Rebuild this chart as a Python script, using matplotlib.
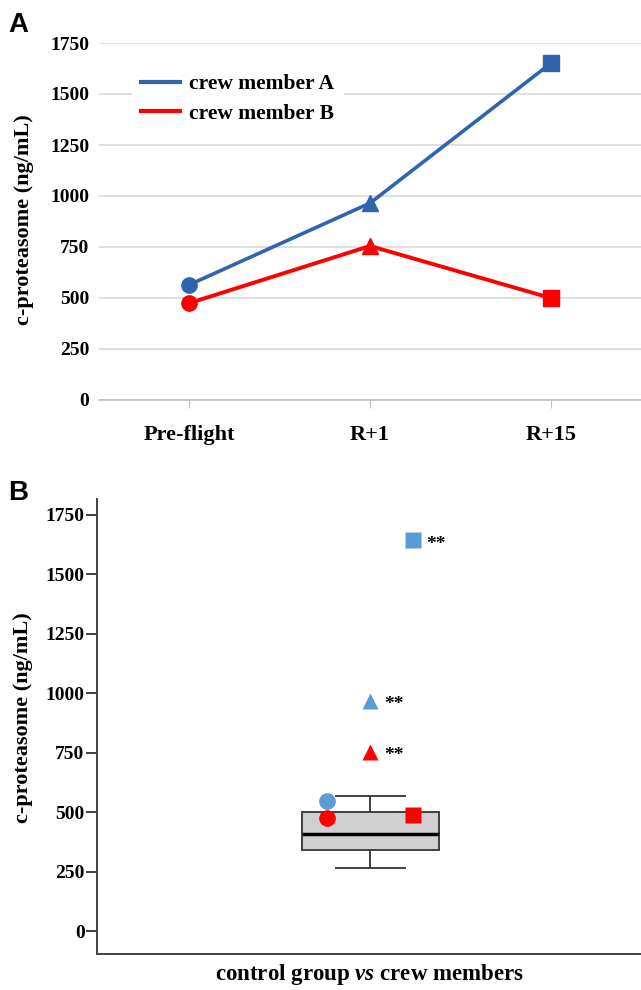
import numpy as np
import matplotlib
matplotlib.use("Agg")
import matplotlib.pyplot as plt

plt.rcParams["font.family"] = ["Liberation Serif", "DejaVu Serif"]
plt.rcParams["font.weight"] = "bold"
plt.rcParams["mathtext.fontset"] = "custom"
plt.rcParams["mathtext.rm"] = "Liberation Serif:bold"
plt.rcParams["mathtext.bfit"] = "Liberation Serif:italic:bold"

# ---------------- data ----------------
timepoints = ["Pre-flight", "R+1", "R+15"]
crew_a = [565, 965, 1650]
crew_b = [475, 755, 500]
markers = ["o", "^", "s"]

# control group box (SPSS-style summary)
ctrl_whislo, ctrl_q1, ctrl_med, ctrl_q3, ctrl_whishi = 265, 340, 410, 500, 570
# crew values plotted over the box in panel B
crew_offsets = [-0.32, 0.0, 0.31]
pb_crew_a = [550, 970, 1645]     # crew member A (blue)
pb_crew_b = [475, 755, 490]      # crew member B (red)
sig_a = [False, True, True]
sig_b = [False, True, False]
yticks = [0, 250, 500, 750, 1000, 1250, 1500, 1750]
# --------------------------------------

BLUE_A = "#2F64AE"
RED = "#FF0000"
BLUE_B = "#5B9BD5"
W, H = 641, 990

fig = plt.figure(figsize=(W / 100, H / 100), dpi=100)

# ---------------- panel A ----------------
ax1 = fig.add_axes([99 / W, 1 - 400 / H, (641 - 99) / W, (400 - 43) / H])
x = np.arange(len(timepoints))
ax1.plot(x, crew_a, "-", color=BLUE_A, lw=2.6, label="crew member A", zorder=3)
ax1.plot(x, crew_b, "-", color=RED, lw=2.8, label="crew member B", zorder=3)
for xi, ya, yb, m in zip(x, crew_a, crew_b, markers):
    ax1.plot(xi, ya, m, color=BLUE_A, ms=11, zorder=4)
    ax1.plot(xi, yb, m, color=RED, ms=11, zorder=4)
ax1.set_xlim(-0.5, 2.5)
ax1.set_ylim(0, 1750)
ax1.set_yticks(yticks)
ax1.set_xticks(x)
ax1.set_xticklabels(timepoints, fontsize=16, fontweight="bold")
ax1.tick_params(axis="y", length=0, pad=7, labelsize=14)
ax1.tick_params(axis="x", length=6, color="#BFBFBF", pad=12)
ax1.grid(axis="y", color="#D9D9D9", lw=1.2, zorder=0)
for s in ["top", "right", "left"]:
    ax1.spines[s].set_visible(False)
ax1.spines["bottom"].set_color("#BFBFBF")
ax1.spines["bottom"].set_linewidth(1.2)
ax1.set_ylabel("c-proteasome (ng/mL)", fontsize=16, fontweight="bold")
ax1.yaxis.set_label_coords(-0.12, 0.505)
leg = ax1.legend(loc="upper left", bbox_to_anchor=(0.06, 0.94), borderaxespad=0,
                 frameon=True, fontsize=15.5, handlelength=1.8, handletextpad=0.4,
                 labelspacing=0.45, borderpad=0.45, fancybox=False)
leg.get_frame().set_edgecolor("white")
leg.get_frame().set_facecolor("white")
leg.get_frame().set_alpha(1.0)
for line in leg.get_lines():
    line.set_linewidth(3.0)
for t in leg.get_texts():
    t.set_fontweight("bold")
fig.text(8 / W, 1 - 32 / H, "A", fontsize=20, fontweight="bold", family="Liberation Sans")

# ---------------- panel B ----------------
ax2 = fig.add_axes([97 / W, 1 - 954 / H, (641 - 97) / W, (954 - 499) / H])
stats = [dict(whislo=ctrl_whislo, q1=ctrl_q1, med=ctrl_med, q3=ctrl_q3,
              whishi=ctrl_whishi, fliers=[])]
ax2.bxp(stats, positions=[0], widths=[1.0], showfliers=False, patch_artist=True,
        boxprops=dict(facecolor="#D0D0D0", edgecolor="#404040", lw=1.4),
        whiskerprops=dict(color="#404040", lw=1.4),
        capprops=dict(color="#404040", lw=1.4),
        medianprops=dict(color="black", lw=2.5), capwidths=[0.5])
for off, ya, yb, m, sa, sb in zip(crew_offsets, pb_crew_a, pb_crew_b, markers, sig_a, sig_b):
    ax2.plot(off, ya, m, color=BLUE_B, ms=12, zorder=4, mec="none")
    ax2.plot(off, yb, m, color=RED, ms=12, zorder=4, mec="none")
    for yv, s in ((ya, sa), (yb, sb)):
        if s:
            ax2.annotate("**", (off, yv), xytext=(10, -3), textcoords="offset points",
                         ha="left", va="center", fontsize=14, fontweight="bold")
ax2.set_xlim(-2.0, 1.98)
ax2.set_ylim(-95, 1817)
ax2.set_yticks(yticks)
ax2.set_xticks([])
ax2.tick_params(axis="y", length=8, width=1.4, color="#404040", labelsize=14, pad=1)
for s in ["top", "right"]:
    ax2.spines[s].set_visible(False)
for s in ["left", "bottom"]:
    ax2.spines[s].set_color("#404040")
    ax2.spines[s].set_linewidth(1.4)
ax2.set_ylabel("c-proteasome (ng/mL)", fontsize=16, fontweight="bold")
ax2.yaxis.set_label_coords(-0.118, 0.52)
ax2.set_xlabel(r"control group $\mathbfit{vs}$ crew members", fontsize=16.5,
               fontweight="bold", labelpad=6)
fig.text(8 / W, 1 - 500 / H, "B", fontsize=20, fontweight="bold", family="Liberation Sans")

fig.savefig("out.png", dpi=100)
